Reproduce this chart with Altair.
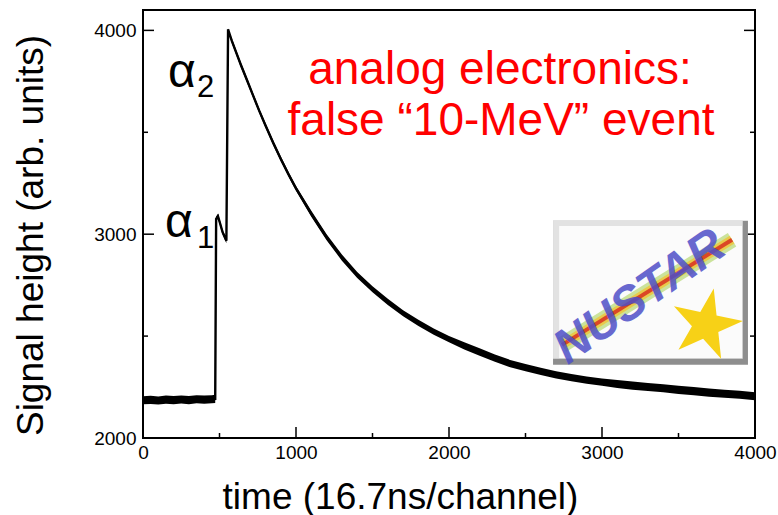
import altair as alt
import pandas as pd

# ---- trace (channel, signal, half-width of noise band) ----
channel = [0, 50, 100, 150, 200, 250, 300, 350, 400, 450, 472,
           478, 490, 505, 520, 535, 545,
           556, 580, 610, 640, 680, 720, 760, 800, 850, 900, 950, 1000,
           1100, 1200, 1300, 1400, 1500, 1600, 1700, 1800, 1900, 2000,
           2100, 2200, 2300, 2400, 2500, 2600, 2700, 2800, 2900, 3000,
           3100, 3200, 3300, 3400, 3500, 3600, 3700, 3800, 3900, 4000]
signal = [2185, 2187, 2184, 2188, 2186, 2189, 2186, 2190, 2188, 2190, 2192,
          3075, 3088, 3050, 3010, 2985, 2968,
          4005, 3950, 3890, 3830, 3755, 3680, 3605, 3535, 3450, 3370, 3295, 3225,
          3100, 2985, 2885, 2800, 2730, 2668, 2612, 2565, 2522, 2485,
          2452, 2422, 2392, 2365, 2345, 2327, 2310, 2296, 2284, 2274,
          2265, 2257, 2250, 2244, 2236, 2230, 2223, 2217, 2212, 2205]
spread = [20] * 11 + [12] * 6 + [4] + [12] * 11 + [15] * 10 + [18] * 10 + [20] * 10

x_major = [0, 1000, 2000, 3000, 4000]
x_minor = [500, 1500, 2500, 3500]
y_major = [2000, 3000, 4000]
y_minor = [2500, 3500]

# annotations
alpha_x = [163, 144]
alpha_y = [3720, 2988]
sub_text = ["2", "1"]
sub_x = [353, 353]
sub_y = [3671, 2934]
red_lines = ["analog electronics:", "false \u201c10-MeV\u201d event"]
red_x = [2333, 2340]
red_y = [3735, 3489]

# logo (NUSTAR) placement in data coordinates
logo_dark = dict(x=2680, x2=3954, y=2359, y2=3066)
logo_light = dict(x=2680, x2=3920, y=2389, y2=3066)
logo_inner = dict(x=2720, x2=3915, y=2392, y2=3040)
streak_x = [2739, 3850]
streak_y = [2457, 2973]
logo_text_pos = dict(x=3250, y=2690)
star_pos = dict(x=3680, y=2555)

STAR = ("M0,-1L0.2245,-0.309L0.951,-0.309L0.363,0.118L0.588,0.809L0,0.382"
        "L-0.588,0.809L-0.363,0.118L-0.951,-0.309L-0.2245,-0.309Z")

W, H = 612, 428
FONT = "Liberation Sans"
xs = alt.Scale(domain=[0, 4000], nice=False, zero=False)
ys = alt.Scale(domain=[2000, 4100], nice=False, zero=False)

trace = pd.DataFrame({
    "ch": channel,
    "sig": signal,
    "lo": [s - d for s, d in zip(signal, spread)],
    "hi": [s + d for s, d in zip(signal, spread)],
})

x_axis = alt.Axis(orient="bottom", title="time (16.7ns/channel)", titleFontSize=37,
                  titleFontWeight="normal", titleX=257, titleY=70, titleBaseline="alphabetic",
                  titleAlign="center", titleColor="black", labelFontSize=19, labelColor="black",
                  labelPadding=5, labelFlush=False, ticks=False, domain=False, grid=False,
                  values=x_major, format="d")
y_axis = alt.Axis(orient="left", title="Signal height (arb. units)", titleFontSize=37,
                  titleFontWeight="normal", titleAngle=270, titleX=-112, titleY=225,
                  titleBaseline="middle", titleAlign="center", titleColor="black",
                  labelFontSize=19, labelColor="black", labelPadding=7, labelFlush=False,
                  ticks=False, domain=False, grid=False, values=y_major, format="d")

def X(f):
    return alt.X(f, scale=xs)

def Y(f):
    return alt.Y(f, scale=ys)

base = alt.Chart(trace)
band = base.mark_area(color="black").encode(
    x=alt.X("ch:Q", scale=xs, axis=x_axis),
    y=alt.Y("lo:Q", scale=ys, axis=y_axis),
    y2="hi:Q",
)
line = base.mark_line(color="black", strokeWidth=2.4).encode(x=X("ch:Q"), y=Y("sig:Q"))

def xticks(vals, length):
    return alt.Chart(pd.DataFrame({"v": vals})).mark_rule(color="black", strokeWidth=1.5).encode(
        x=X("v:Q"), y=alt.value(H), y2=alt.value(H - length))

def yticks(vals, length, right=False):
    x0 = W if right else 0
    x1 = W - length if right else length
    return alt.Chart(pd.DataFrame({"v": vals})).mark_rule(color="black", strokeWidth=1.5).encode(
        y=Y("v:Q"), x=alt.value(x0), x2=alt.value(x1))

ticks = [xticks(x_major, 11), xticks(x_minor, 5),
         yticks(y_major, 11), yticks(y_minor, 5),
         yticks(y_major, 11, True), yticks(y_minor, 5, True)]

alpha = alt.Chart(pd.DataFrame({"x": alpha_x, "y": alpha_y, "t": ["\u03b1", "\u03b1"]})).mark_text(
    font=FONT, fontSize=48, align="left", baseline="alphabetic", color="black").encode(
    x=X("x:Q"), y=Y("y:Q"), text="t:N")
subs = alt.Chart(pd.DataFrame({"x": sub_x, "y": sub_y, "t": sub_text})).mark_text(
    font=FONT, fontSize=31, align="left", baseline="alphabetic", color="black").encode(
    x=X("x:Q"), y=Y("y:Q"), text="t:N")
red = alt.Chart(pd.DataFrame({"x": red_x, "y": red_y, "t": red_lines})).mark_text(
    font=FONT, fontSize=46, align="center", baseline="alphabetic", color="#ff0000").encode(
    x=X("x:Q"), y=Y("y:Q"), text="t:N")

def rect(d, fill):
    return alt.Chart(pd.DataFrame([d])).mark_rect(color=fill, opacity=1).encode(
        x=X("x:Q"), x2="x2:Q", y=Y("y:Q"), y2="y2:Q")

logo = [rect(logo_dark, "#8e8e8e"), rect(logo_light, "#e2e2e2"), rect(logo_inner, "#fbfbfb")]

sdf = pd.DataFrame({"x": streak_x, "y": streak_y})
def streak(color, width, opacity):
    return alt.Chart(sdf).mark_line(color=color, strokeWidth=width, opacity=opacity).encode(
        x=X("x:Q"), y=Y("y:Q"))

streaks = [streak("#9ccc3c", 16, 0.5), streak("#f2c230", 9, 0.75), streak("#d83020", 4, 0.85)]

nustar = alt.Chart(pd.DataFrame([dict(logo_text_pos, t="NUSTAR")])).mark_text(
    font=FONT, fontSize=48, fontStyle="italic", fontWeight="bold", angle=325,
    align="center", baseline="middle", color="#4f4fc8", opacity=0.85).encode(
    x=X("x:Q"), y=Y("y:Q"), text="t:N")
star = alt.Chart(pd.DataFrame([star_pos])).mark_point(
    shape=STAR, filled=True, color="#f7d117", opacity=1, size=5500, angle=12).encode(
    x=X("x:Q"), y=Y("y:Q"))

chart = alt.layer(band, line, *ticks, alpha, subs, red, *logo, *streaks, nustar, star).properties(
    width=W, height=H,
    autosize=alt.AutoSizeParams(type="none"),
    padding={"left": 143, "top": 10, "right": 23, "bottom": 77},
    background="white",
).configure(font=FONT).configure_view(stroke="black", strokeWidth=2)

chart.save("out.html", embed_options={"renderer": "svg", "actions": False})
